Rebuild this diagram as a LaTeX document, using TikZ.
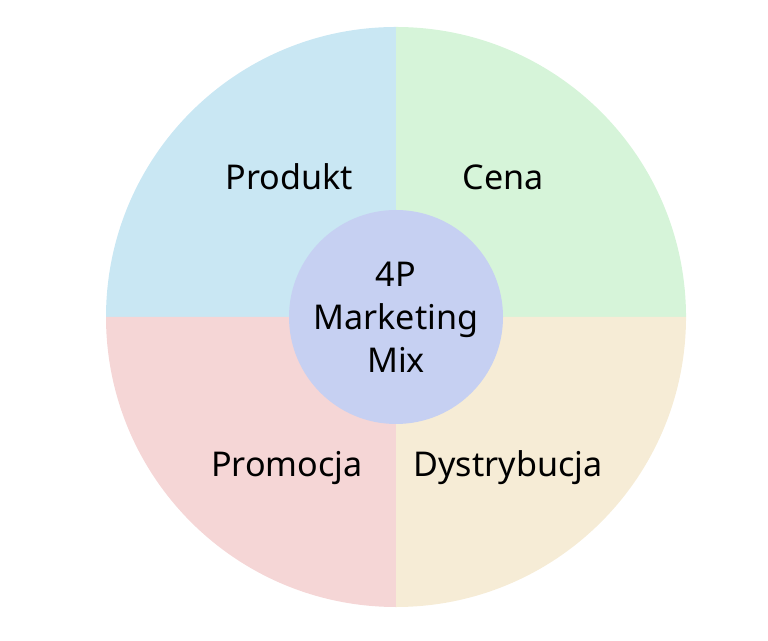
\documentclass[tikz,border=0pt]{standalone}
\usepackage{fontspec}
\setmainfont{Noto Sans}
\definecolor{prodblue}{HTML}{C9E7F3}
\definecolor{cenagreen}{HTML}{D6F4D9}
\definecolor{promopink}{HTML}{F5D6D6}
\definecolor{distbeige}{HTML}{F6ECD6}
\definecolor{mixlav}{HTML}{C6D0F2}
\tikzset{
  quarter/.style={draw=none},
  plabel/.style={inner sep=0pt, font=\fontsize{9.7}{12.2}\selectfont, text=black},
}
\begin{document}
\begin{tikzpicture}[x=0.01cm, y=0.01cm]
  \useasboundingbox (0,0) rectangle (768,640);%
  \coordinate (c) at (396,323);%

  % Drawing the four quarters
  \fill [quarter, prodblue]   (c) -- ++(-290,0) arc [start angle=180, end angle=90, radius=290] -- cycle;%
  \fill [quarter, cenagreen]  (c) -- ++(0,290) arc [start angle=90, end angle=0, radius=290] -- cycle;%
  \fill [quarter, promopink]  (c) -- ++(-290,0) arc [start angle=180, end angle=270, radius=290] -- cycle;%
  \fill [quarter, distbeige]  (c) -- ++(0,-290) arc [start angle=270, end angle=360, radius=290] -- cycle;%

  % Drawing the centre
  \fill [mixlav] (c) circle [radius=107];%
  \node [plabel, align=center] (mix) at (396,323) {4P\\Marketing\\Mix};%

  % Labels of the quarters
  \node [plabel] (produkt) at (289,463) {Produkt};%
  \node [plabel] (cena) at (503,463) {Cena};%
  \node [plabel] (promocja) at (287,172) {Promocja};%
  \node [plabel] (dystrybucja) at (508,172) {Dystrybucja};%
\end{tikzpicture}
\end{document}
